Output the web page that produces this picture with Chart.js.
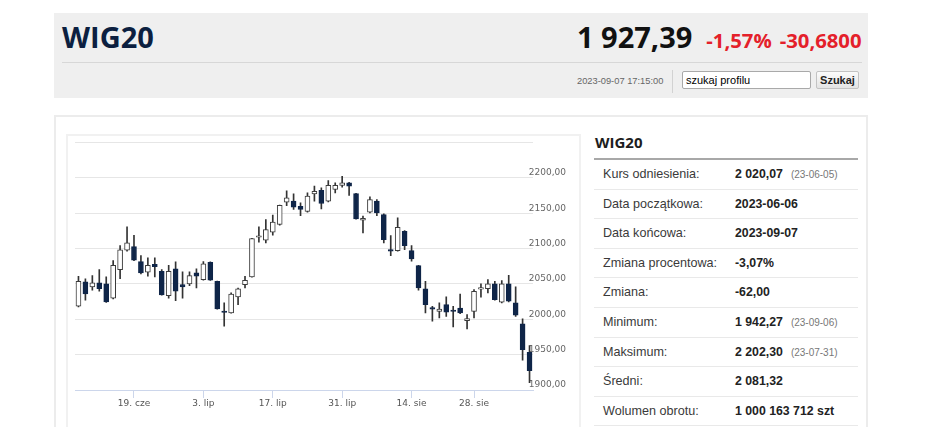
<!DOCTYPE html>
<html>
<head>
<meta charset="utf-8">
<script src="https://cdn.jsdelivr.net/npm/chart.js@4.4.0/dist/chart.umd.min.js"></script>
<style>
html,body{margin:0;padding:0;background:#fff;width:948px;height:427px;overflow:hidden;font-family:"Liberation Sans",Arial,sans-serif;}
.a{position:absolute;}
#hdr{left:54px;top:13px;width:814px;height:85px;background:#efefef;}
#name{left:62px;top:22px;font:700 29px/29px "Open Sans",sans-serif;color:#0c1f40;white-space:nowrap;}
#quote{left:577px;top:22px;font:700 29px/29px "Open Sans",sans-serif;color:#111;white-space:nowrap;}
#quote .r{font-size:20.3px;color:#e4202a;}
#sep{left:62px;top:62px;width:800px;height:1px;background:#d7d7d7;}
#ts{left:577px;top:76px;font:9.3px/11px "Liberation Sans",Arial,sans-serif;color:#666;white-space:nowrap;}
#vsep{left:672px;top:70px;width:1px;height:23px;background:#d2d2d2;}
#inp{left:682px;top:71px;width:129px;height:18px;box-sizing:border-box;border:1px solid #a9a9a9;border-radius:2px;background:#fff;font:11px/16px "Liberation Sans",Arial,sans-serif;color:#000;padding-left:3px;}
#btn{left:816px;top:71px;width:43px;height:18px;box-sizing:border-box;border:1px solid #c3c3c3;border-radius:2px;background:linear-gradient(#fbfbfb,#e3e3e3);font:700 11px/16px "Liberation Sans",Arial,sans-serif;color:#222;text-align:center;}
#panel{left:54px;top:115px;width:814px;height:330px;box-sizing:border-box;border:2px solid #ececec;}
#cbox{left:66px;top:134px;width:515px;height:320px;box-sizing:border-box;border:2px solid #f1f1f1;}
#cv{left:66px;top:134px;}
#ttl{left:595px;top:135px;font:700 15px/15px "Open Sans",sans-serif;color:#1d1d1d;}
#tline{left:594px;top:158px;width:264px;height:2px;background:#a8a8a8;}
.row{position:absolute;left:594px;width:264px;height:29.6px;box-sizing:border-box;border-bottom:1px solid #e9e9e9;font:12.6px/28px "Liberation Sans",Arial,sans-serif;color:#3a3a3a;white-space:nowrap;}
.row .l{position:absolute;left:9px;}
.row .v{position:absolute;left:141px;font-weight:700;font-size:12.3px;color:#222;}
.row .d{font:400 10px "Liberation Sans",Arial,sans-serif;color:#777;margin-left:8px;}
</style>
</head>
<body>
<div class="a" id="hdr"></div>
<div class="a" id="name">WIG20</div>
<div class="a" id="quote">1 927,39<span class="r" style="margin-left:14px">-1,57%</span><span class="r" style="margin-left:8px">-30,6800</span></div>
<div class="a" id="sep"></div>
<div class="a" id="ts">2023-09-07 17:15:00</div>
<div class="a" id="vsep"></div>
<div class="a" id="inp">szukaj profilu</div>
<div class="a" id="btn">Szukaj</div>

<div class="a" id="panel"></div>
<div class="a" id="cbox"></div>
<canvas class="a" id="cv" width="514" height="293"></canvas>

<div class="a" id="ttl">WIG20</div>
<div class="a" id="tline"></div>
<div class="row" style="top:160px"><span class="l">Kurs odniesienia:</span><span class="v">2 020,07<span class="d">(23-06-05)</span></span></div>
<div class="row" style="top:189.6px"><span class="l">Data początkowa:</span><span class="v">2023-06-06</span></div>
<div class="row" style="top:219.2px"><span class="l">Data końcowa:</span><span class="v">2023-09-07</span></div>
<div class="row" style="top:248.8px"><span class="l">Zmiana procentowa:</span><span class="v">-3,07%</span></div>
<div class="row" style="top:278.4px"><span class="l">Zmiana:</span><span class="v">-62,00</span></div>
<div class="row" style="top:308px"><span class="l">Minimum:</span><span class="v">1 942,27<span class="d">(23-09-06)</span></span></div>
<div class="row" style="top:337.6px"><span class="l">Maksimum:</span><span class="v">2 202,30<span class="d">(23-07-31)</span></span></div>
<div class="row" style="top:367.2px"><span class="l">Średni:</span><span class="v">2 081,32</span></div>
<div class="row" style="top:396.8px"><span class="l">Wolumen obrotu:</span><span class="v">1 000 163 712 szt</span></div>

<script>
const dates = ['2023-06-06','2023-06-07','2023-06-09','2023-06-12','2023-06-13','2023-06-14','2023-06-15','2023-06-16',
'2023-06-19','2023-06-20','2023-06-21','2023-06-22','2023-06-23','2023-06-26','2023-06-27','2023-06-28','2023-06-29','2023-06-30',
'2023-07-03','2023-07-04','2023-07-05','2023-07-06','2023-07-07','2023-07-10','2023-07-11','2023-07-12','2023-07-13','2023-07-14',
'2023-07-17','2023-07-18','2023-07-19','2023-07-20','2023-07-21','2023-07-24','2023-07-25','2023-07-26','2023-07-27','2023-07-28',
'2023-07-31','2023-08-01','2023-08-02','2023-08-03','2023-08-04','2023-08-07','2023-08-08','2023-08-09','2023-08-10','2023-08-11',
'2023-08-14','2023-08-16','2023-08-17','2023-08-18','2023-08-21','2023-08-22','2023-08-23','2023-08-24','2023-08-25',
'2023-08-28','2023-08-29','2023-08-30','2023-08-31','2023-09-01','2023-09-04','2023-09-05','2023-09-06','2023-09-07'];
const openV  = [2018.4,2052.8,2045.8,2051.4,2050.0,2029.7,2070.3,2097.6,2102.8,2081.6,2066.5,2077.8,2067.9,2033.5,2071.2,2049.1,2050.0,2065.6,
2056.1,2080.7,2053.8,2010.2,2008.9,2031.6,2049.1,2059.9,2116.0,2111.8,2123.1,2134.0,2165.6,2167.0,2159.9,2152.4,2177.4,2182.5,2167.0,2183.5,
2189.2,2192.9,2177.8,2140.1,2151.4,2167.0,2148.1,2098.6,2097.2,2124.5,2097.2,2075.9,2042.9,2015.0,2011.3,2020.8,2011.8,2016.0,1998.1,
2011.3,2042.6,2043.4,2050.0,2024.1,2050.0,2023.1,1993.4,1953.3];
const highV  = [2060.8,2057.1,2061.8,2070.3,2059.9,2083.0,2104.2,2130.7,2118.9,2090.1,2086.8,2086.8,2070.3,2076.4,2081.1,2067.0,2067.0,2071.2,
2081.6,2081.2,2054.2,2023.1,2037.3,2044.3,2060.8,2114.6,2130.7,2141.0,2147.2,2161.6,2181.6,2177.4,2164.6,2178.8,2188.2,2185.8,2196.2,2192.9,
2202.3,2193.5,2178.2,2145.8,2173.1,2169.3,2149.1,2118.4,2143.4,2125.5,2104.2,2076.3,2053.8,2018.4,2023.1,2031.6,2018.4,2035.8,2006.6,
2042.0,2050.0,2056.1,2053.8,2054.7,2062.3,2045.8,2000.5,1962.7];
const lowV   = [2017.5,2026.9,2041.0,2039.6,2024.0,2028.8,2057.5,2096.2,2083.0,2064.2,2060.8,2059.9,2034.0,2029.7,2026.4,2029.7,2047.6,2044.3,
2055.2,2054.8,2014.2,1990.1,2008.5,2020.8,2044.3,2059.5,2109.0,2108.0,2118.9,2133.2,2160.8,2155.2,2146.7,2151.4,2167.0,2156.1,2166.0,2178.8,
2186.8,2175.0,2141.6,2122.2,2150.5,2146.7,2108.0,2090.1,2096.2,2098.6,2082.1,2041.0,2009.0,1997.2,2001.9,2004.2,1989.2,2008.0,1986.3,
2001.9,2031.1,2037.3,2026.9,2023.1,2024.5,2004.2,1942.3,1910.5];
const closeV = [2053.8,2035.8,2051.4,2043.4,2024.5,2076.4,2098.1,2108.0,2083.5,2065.6,2076.4,2074.5,2034.4,2067.9,2039.6,2045.8,2061.8,2060.8,
2078.3,2055.2,2014.6,2009.6,2035.8,2042.9,2055.2,2114.2,2116.8,2126.9,2137.3,2161.3,2171.7,2158.5,2155.2,2174.1,2181.1,2163.7,2189.6,2189.6,
2192.9,2188.2,2142.0,2142.9,2169.3,2150.5,2112.7,2096.2,2130.2,2104.2,2085.4,2044.3,2020.8,2014.4,2014.6,2009.9,2011.0,2008.9,2000.9,
2039.6,2043.2,2050.0,2027.8,2050.0,2025.5,2005.7,1957.1,1927.4];
const tickDates = ['2023-06-19','2023-07-03','2023-07-17','2023-07-31','2023-08-14','2023-08-28'];
const tickTexts = ['19. cze','3. lip','17. lip','31. lip','14. sie','28. sie'];
const yMin = 1900, yMax = 2250, yStep = 50;

const upFill = '#ffffff', upLine = '#3b3b3b', downFill = '#0f2548', wickCol = '#333333';
const isUp = openV.map((o,i) => closeV[i] >= o);
const tickLabelFor = d => { const k = tickDates.indexOf(d); return k >= 0 ? tickTexts[k] : ''; };

new Chart(document.getElementById('cv'), {
  type: 'bar',
  data: {
    labels: dates,
    datasets: [
      {
        label: 'body',
        data: openV.map((o,i) => [o, closeV[i]]),
        backgroundColor: isUp.map(u => u ? upFill : downFill),
        borderColor: isUp.map(u => u ? upLine : downFill),
        borderWidth: 1,
        borderSkipped: false,
        barThickness: 5,
        minBarLength: 1.5,
        grouped: false,
        order: 0
      },
      {
        label: 'wick',
        data: lowV.map((l,i) => [l, highV[i]]),
        backgroundColor: wickCol,
        borderWidth: 0,
        barThickness: 1,
        grouped: false,
        order: 1
      }
    ]
  },
  options: {
    responsive: false,
    animation: false,
    devicePixelRatio: 1,
    layout: { padding: { left: 9, top: 8.5, right: 0, bottom: 0 } },
    plugins: { legend: { display: false }, tooltip: { enabled: false } },
    scales: {
      x: {
        type: 'category',
        offset: true,
        afterFit: s => { s.height = 37; },
        grid: {
          offset: false,
          drawOnChartArea: false,
          drawTicks: true,
          tickLength: 8,
          color: ctx => (ctx.index !== undefined && tickLabelFor(dates[ctx.index]) !== '') ? '#ccd6eb' : 'rgba(0,0,0,0)'
        },
        border: { display: true, color: '#ccd6eb', width: 1 },
        ticks: {
          autoSkip: false,
          maxRotation: 0,
          minRotation: 0,
          padding: 0,
          color: '#555',
          font: { family: 'DejaVu Sans', size: 9 },
          callback: (v, i) => tickLabelFor(dates[i])
        }
      },
      y: {
        position: 'right',
        min: yMin,
        max: yMax,
        afterFit: s => { s.width = 47; s.paddingTop = 0; s.paddingBottom = 0; },
        grid: { color: '#e6e6e6', lineWidth: 1, drawTicks: false },
        border: { display: false },
        ticks: {
          stepSize: yStep,
          mirror: true,
          crossAlign: 'near',
          padding: 33,
          labelOffset: -5,
          color: '#666',
          font: { family: 'DejaVu Sans', size: 9 },
          callback: v => v >= yMax ? '' : v.toFixed(2).replace('.', ',')
        }
      }
    }
  }
});
</script>
</body>
</html>
